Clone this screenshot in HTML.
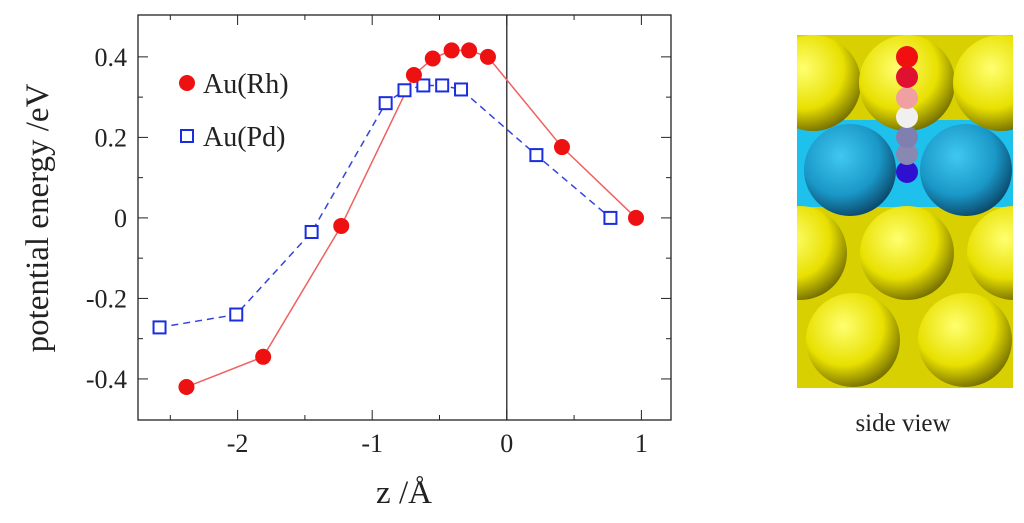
<!DOCTYPE html>
<html><head><meta charset="utf-8"><style>
body{margin:0;background:#fff;width:1024px;height:518px;overflow:hidden}
svg text{font-family:"Liberation Serif",serif;fill:#222}
</style></head><body>
<svg width="1024" height="518">
<defs>
<radialGradient id="gy" cx="0.4" cy="0.35" r="0.7"><stop offset="0" stop-color="#ffff70"/><stop offset="0.6" stop-color="#e8e000"/><stop offset="1" stop-color="#6a6400"/></radialGradient>
<radialGradient id="gc" cx="0.4" cy="0.35" r="0.7"><stop offset="0" stop-color="#40c8f0"/><stop offset="0.6" stop-color="#1a98c8"/><stop offset="1" stop-color="#0a4060"/></radialGradient>
<clipPath id="cp"><rect x="797" y="35" width="216" height="353"/></clipPath>
</defs>
<g id="chart"></g>
<g clip-path="url(#cp)">
<rect x="797" y="35" width="216" height="353" fill="#d8d000"/>
<rect x="797" y="120" width="216" height="87" fill="#1ec0ec"/>
<circle cx="813" cy="83" r="48" fill="url(#gy)"/><circle cx="907" cy="83" r="48" fill="url(#gy)"/><circle cx="1001" cy="83" r="48" fill="url(#gy)"/>
<circle cx="850" cy="170" r="46" fill="url(#gc)"/><circle cx="966" cy="170" r="46" fill="url(#gc)"/>
<circle cx="800" cy="253" r="47" fill="url(#gy)"/><circle cx="907" cy="253" r="47" fill="url(#gy)"/><circle cx="1014" cy="253" r="47" fill="url(#gy)"/>
<circle cx="853" cy="340" r="47" fill="url(#gy)"/><circle cx="965" cy="340" r="47" fill="url(#gy)"/>
<circle cx="907" cy="172" r="11" fill="#3010d0"/>
<circle cx="907" cy="154" r="11" fill="#8888b0"/>
<circle cx="907" cy="137" r="11" fill="#8080b0"/>
<circle cx="907" cy="117" r="11" fill="#f0f0f0"/>
<circle cx="907" cy="98" r="11" fill="#f0a0a0"/>
<circle cx="907" cy="77" r="11" fill="#e01030"/>
<circle cx="907" cy="57" r="11" fill="#f01010"/>
</g>
<text x="903" y="431" font-size="25" text-anchor="middle">side view</text>
</svg>
<script>
const rhZ=[-2.38,-1.81,-1.23,-0.69,-0.55,-0.41,-0.28,-0.14,0.41,0.96];
const rhE=[-0.42,-0.345,-0.02,0.355,0.396,0.416,0.416,0.40,0.176,0];
const pdZ=[-2.58,-2.01,-1.45,-0.90,-0.76,-0.62,-0.48,-0.34,0.22,0.77];
const pdE=[-0.272,-0.24,-0.035,0.285,0.317,0.329,0.329,0.319,0.156,0];
const xTicks=[-2,-1,0,1];const xLabels=["-2","-1","0","1"];
const yTicks=[-0.4,-0.2,0,0.2,0.4];const yLabels=["-0.4","-0.2","0","0.2","0.4"];
const NS="http://www.w3.org/2000/svg";
const L=138,R=671,T=15,B=420,x0=-2.74,x1=1.22,y0=-0.502,y1=0.504;
const X=v=>L+(v-x0)/(x1-x0)*(R-L), Y=v=>B-(v-y0)/(y1-y0)*(B-T);
const g=document.getElementById('chart');
function mk(t,a,txt){const e=document.createElementNS(NS,t);for(const k in a)e.setAttribute(k,a[k]);if(txt!==undefined)e.textContent=txt;g.appendChild(e);return e;}
let e;
e=mk('rect',{x:L,y:T,width:R-L,height:B-T,fill:'none',stroke:'#222','stroke-width':1.3});


e=mk('line',{x1:X(0),x2:X(0),y1:T,y2:B,stroke:'#222','stroke-width':1.3});


for(let i=-2.5;i<=1.01;i+=0.5){const on=Math.abs(i%1)<0.01;const len=on?10:5;
 mk('line',{x1:X(i),x2:X(i),y1:B,y2:B-len,stroke:'#222'});mk('line',{x1:X(i),x2:X(i),y1:T,y2:T+len,stroke:'#222'});}
for(let v=-0.4;v<=0.41;v+=0.1){const on=Math.abs(Math.round(v*10))%2===0;const len=on?10:5;
 mk('line',{x1:L,x2:L+len,y1:Y(v),y2:Y(v),stroke:'#222'});mk('line',{x1:R,x2:R-len,y1:Y(v),y2:Y(v),stroke:'#222'});}
xTicks.forEach((v,i)=>{e=mk('text',{x:X(v),y:452,'font-size':26,'text-anchor':'middle'},xLabels[i]);

});
yTicks.forEach((v,i)=>{e=mk('text',{x:127,y:Y(v)+9,'font-size':26,'text-anchor':'end'},yLabels[i]);

});
e=mk('text',{x:404,y:503,'font-size':33,'text-anchor':'middle'},'z /Å');


e=mk('text',{x:0,y:0,'font-size':33,'text-anchor':'middle',transform:`translate(48,218) rotate(-90)`},'potential energy /eV');


e=mk('polyline',{points:pdZ.map((z,i)=>X(z)+','+Y(pdE[i])).join(' '),fill:'none',stroke:'#3344dd','stroke-width':1.5,'stroke-dasharray':'7,5'});


e=mk('polyline',{points:rhZ.map((z,i)=>X(z)+','+Y(rhE[i])).join(' '),fill:'none',stroke:'#f06060','stroke-width':1.5});


pdZ.forEach((z,i)=>{e=mk('rect',{x:X(z)-6,y:Y(pdE[i])-6,width:12,height:12,fill:'#fff',stroke:'#1a2ee0','stroke-width':2});

});
rhZ.forEach((z,i)=>{e=mk('circle',{cx:X(z),cy:Y(rhE[i]),r:8,fill:'#ee1111'});

});
e=mk('circle',{cx:187,cy:83,r:8,fill:'#ee1111'});


e=mk('text',{x:203,y:93,'font-size':28},'Au(Rh)');


e=mk('rect',{x:181,y:130,width:12,height:12,fill:'#fff',stroke:'#1a2ee0','stroke-width':2});


e=mk('text',{x:203,y:146,'font-size':28},'Au(Pd)');


</script>
</body></html>
